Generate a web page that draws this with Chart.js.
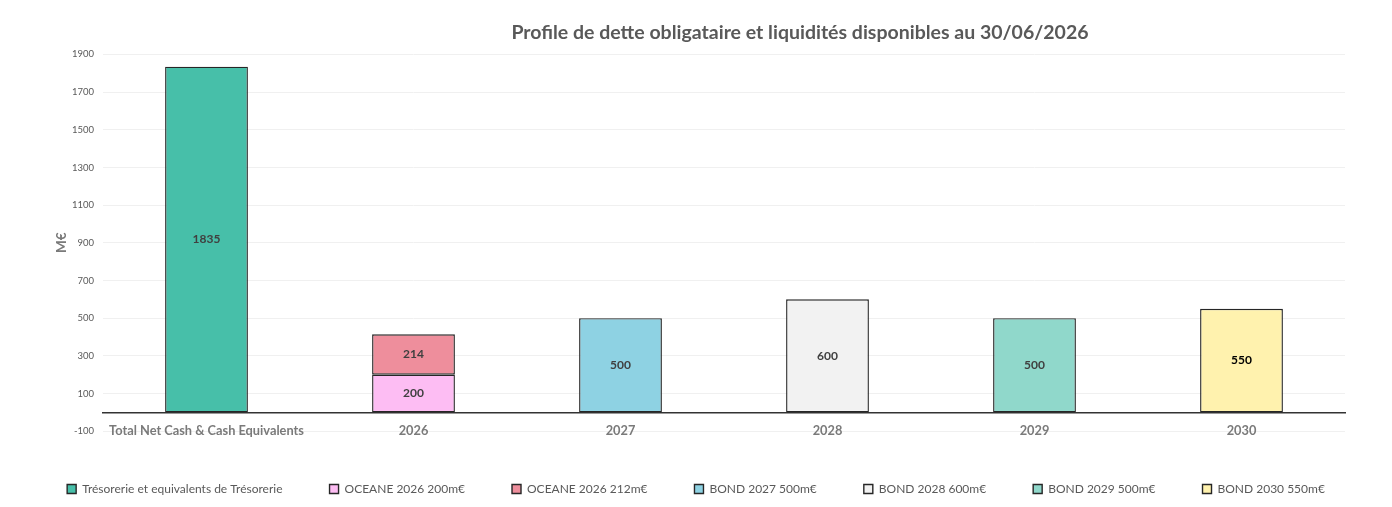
<!DOCTYPE html>
<html>
<head>
<meta charset="utf-8">
<script src="https://cdn.jsdelivr.net/npm/chart.js@4.4.1/dist/chart.umd.min.js"></script>
<style>
  html, body { margin: 0; padding: 0; background: #ffffff; }
  #wrap { width: 1392px; height: 507px; position: relative; }
</style>
</head>
<body>
<div id="wrap"><canvas id="c"></canvas></div>
<script>
// ---- data ----
const categories = ['Total Net Cash & Cash Equivalents', '2026', '2027', '2028', '2029', '2030'];
const seriesNames = [
  'Trésorerie et equivalents de Trésorerie',
  'OCEANE 2026 200m€',
  'OCEANE 2026 212m€',
  'BOND 2027 500m€',
  'BOND 2028 600m€',
  'BOND 2029 500m€',
  'BOND 2030 550m€'
];
const tresorerie = [1835, null, null, null, null, null];
const oceane200  = [null, 200, null, null, null, null];
const oceane212  = [null, 214, null, null, null, null];
const bond2027   = [null, null, 500, null, null, null];
const bond2028   = [null, null, null, 600, null, null];
const bond2029   = [null, null, null, null, 500, null];
const bond2030   = [null, null, null, null, null, 550];
const yMin = -100, yMax = 1900, yStep = 200;

// ---- styles ----
const fills = ['#47BFA9', '#FDBDF3', '#EE8E9C', '#8ED2E3', '#F2F2F2', '#90D8CB', '#FFF2AE'];
const labelColors = ['#404040', '#404040', '#404040', '#404040', '#404040', '#404040', '#000000'];
const seriesValues = [tresorerie, oceane200, oceane212, bond2027, bond2028, bond2029, bond2030];
const FONT = 'Lato, "Open Sans", sans-serif';

const datasets = seriesValues.map((vals, i) => ({
  label: seriesNames[i],
  data: vals,
  backgroundColor: fills[i],
  borderColor: '#262626',
  borderWidth: 1.4,
  borderSkipped: false,
  categoryPercentage: 0.4,
  barPercentage: 1.0,
  labelColor: labelColors[i]
}));

const valueLabels = {
  id: 'valueLabels',
  afterDatasetsDraw(chart) {
    const ctx = chart.ctx;
    ctx.save();
    ctx.font = 'bold 12px ' + FONT;
    ctx.textAlign = 'center';
    ctx.textBaseline = 'middle';
    chart.data.datasets.forEach((ds, di) => {
      const meta = chart.getDatasetMeta(di);
      meta.data.forEach((el, idx) => {
        const v = ds.data[idx];
        if (v === null || v === undefined) return;
        ctx.fillStyle = ds.labelColor;
        ctx.fillText(String(v), el.x, (el.y + el.base) / 2);
      });
    });
    ctx.restore();
  }
};

const titleShift = {
  id: 'titleShift',
  afterLayout(chart) {
    const t = chart.titleBlock;
    if (t) { t.left = 208; t.right = chart.width; }
  }
};

new Chart(document.getElementById('c'), {
  type: 'bar',
  data: { labels: categories, datasets },
  plugins: [valueLabels, titleShift],
  options: {
    responsive: true,
    maintainAspectRatio: false,
    animation: false,
    layout: { padding: { top: 10, left: 0, right: 0, bottom: 2 } },
    scales: {
      x: {
        stacked: true,
        position: { y: 0 },
        grid: { display: false, drawTicks: false },
        border: { display: true, color: '#333333', width: 1.5 },
        ticks: {
          color: '#7a7a7a',
          padding: 11,
          font: { family: FONT, size: 12.8, weight: 'bold' },
          maxRotation: 0,
          autoSkip: false
        }
      },
      y: {
        stacked: true,
        min: yMin,
        max: yMax,
        afterFit(scale) { scale.width = 103; },
        grid: { color: '#f0f0f0', lineWidth: 1, drawTicks: false },
        border: { display: false },
        ticks: {
          stepSize: yStep,
          padding: 9,
          color: '#595959',
          format: { useGrouping: false },
          font: { family: FONT, size: 9.5 }
        },
        title: {
          display: true,
          text: 'M€',
          color: '#7a7a7a',
          padding: { top: 54, bottom: 0 },
          font: { family: FONT, size: 13.5, weight: 'bold' }
        }
      },
      yRight: {
        position: 'right',
        display: true,
        afterFit(scale) { scale.width = 47; },
        grid: { display: false, drawTicks: false },
        border: { display: false },
        ticks: { display: false }
      }
    },
    plugins: {
      title: {
        display: true,
        text: 'Profile de dette obligataire et liquidités disponibles au 30/06/2026',
        color: '#595959',
        padding: { top: 11, bottom: 10 },
        font: { family: FONT, size: 19.5, weight: 'bold' }
      },
      legend: {
        position: 'bottom',
        title: { display: true, text: '', padding: 0, font: { size: 4 } },
        labels: {
          color: '#595959',
          boxWidth: 9,
          boxHeight: 9,
          padding: 47,
          font: { family: FONT, size: 12 }
        }
      },
      tooltip: { enabled: false }
    }
  }
});
</script>
</body>
</html>
